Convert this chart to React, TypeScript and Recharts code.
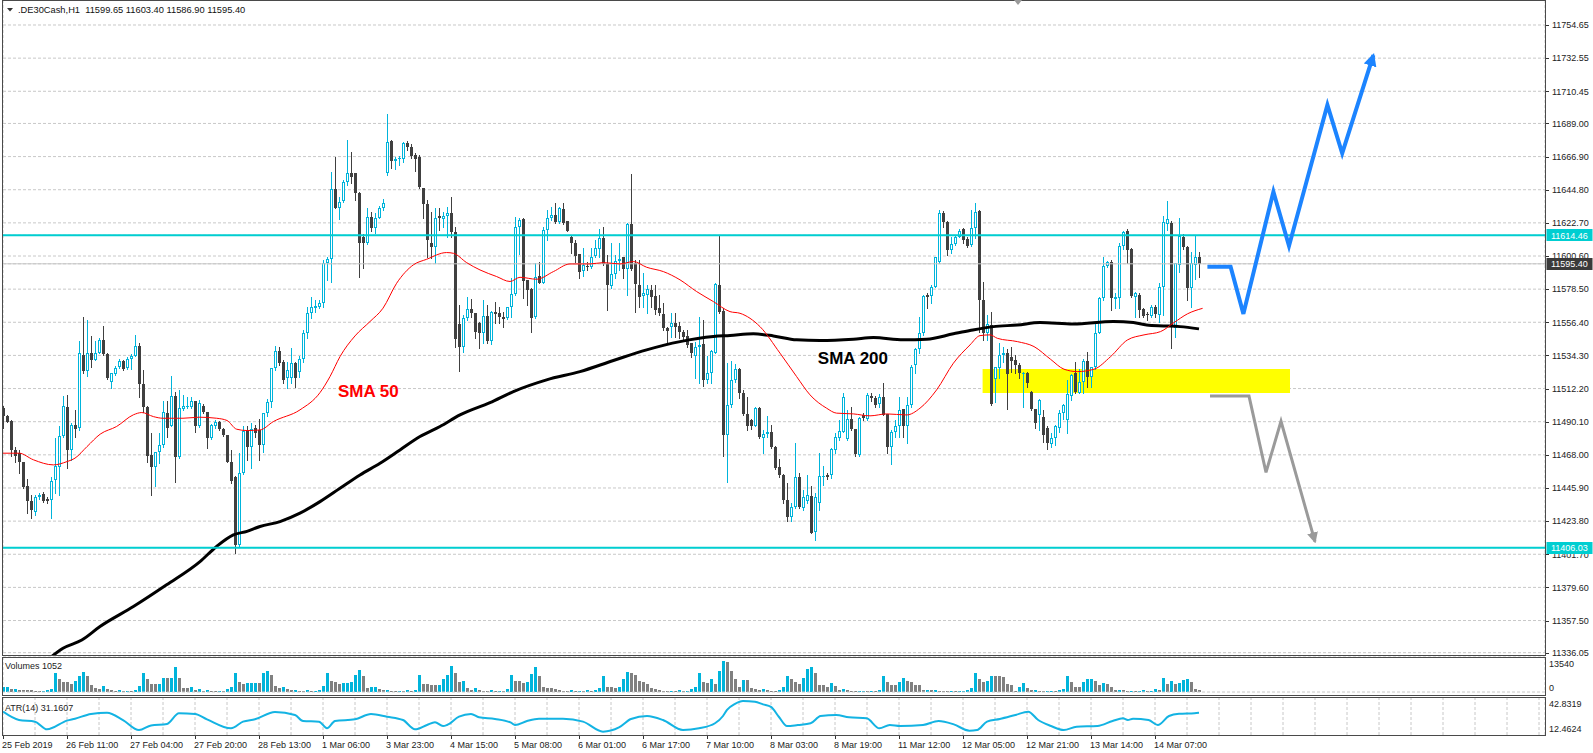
import React from 'react';
import { ComposedChart, Bar, Line, XAxis, YAxis, CartesianGrid, ReferenceLine, ReferenceArea, ReferenceDot } from 'recharts';

// ---------- DATA ----------
const opens = [
11499.1,11493.6,11490.7,11471.3,11469.0,11462.9,11446.9,11437.5,11430.2,11439.8,
11441.9,11438.6,11438.0,11450.9,11460.2,11480.7,11500.2,11471.3,11488.0,11485.8,
11534.7,11523.6,11535.8,11531.3,11535.8,11544.7,11535.3,11516.9,11522.0,11526.5,
11530.7,11525.8,11531.8,11534.0,11540.7,11515.1,11500.2,11468.0,11459.6,11469.8,
11474.7,11496.0,11487.5,11507.3,11466.4,11498.4,11500.2,11499.6,11504.0,11486.9,
11500.7,11496.4,11479.5,11486.9,11490.2,11485.3,11481.3,11463.5,11453.5,11408.0,
11455.8,11484.2,11473.5,11485.7,11484.6,11474.6,11495.8,11503.5,11525.7,11537.5,
11530.2,11519.1,11519.1,11529.1,11523.5,11531.8,11549.1,11562.4,11566.0,11566.4,
11569.1,11595.8,11598.4,11645.1,11632.4,11637.3,11650.2,11655.8,11655.8,11642.5,
11613.6,11609.6,11626.9,11619.1,11625.8,11632.4,11655.8,11677.6,11664.2,11665.3,
11665.1,11676.2,11673.6,11668.0,11666.9,11645.8,11635.4,11609.6,11606.4,11627.0,
11625.3,11627.3,11629.5,11616.9,11555.0,11540.2,11559.1,11565.1,11562.4,11556.2,
11549.1,11560.7,11544.2,11563.5,11562.9,11559.6,11559.1,11566.4,11575.3,11620.2,
11625.1,11584.7,11578.4,11559.8,11587.3,11582.9,11618.0,11625.8,11628.0,11623.6,
11631.8,11624.0,11613.6,11609.1,11602.0,11590.9,11594.0,11593.1,11600.7,11605.1,
11612.5,11595.3,11580.7,11588.5,11597.0,11599.8,11591.8,11622.0,11595.8,11581.3,
11574.0,11574.7,11578.0,11573.6,11565.8,11562.0,11552.4,11553.1,11556.2,11554.0,
11550.2,11547.3,11542.4,11534.0,11539.8,11542.0,11518.0,11522.4,11536.2,11581.3,
11564.2,11481.3,11501.3,11518.0,11525.1,11509.1,11495.3,11491.3,11487.3,11499.1,
11479.1,11482.0,11483.5,11473.5,11460.2,11454.6,11437.9,11426.8,11433.5,11453.1,
11432.4,11437.0,11440.6,11416.8,11435.7,11453.5,11454.6,11454.6,11471.3,11479.1,
11483.5,11478.4,11491.8,11485.1,11468.0,11494.6,11491.8,11507.3,11506.2,11502.0,
11506.4,11495.3,11473.1,11483.5,11486.9,11498.4,11486.9,11501.3,11528.0,11538.4,
11549.1,11574.7,11573.6,11580.2,11596.9,11629.1,11623.6,11604.7,11608.7,11613.6,
11618.5,11611.8,11608.0,11619.1,11630.9,11571.3,11549.5,11554.6,11518.4,11525.7,
11534.6,11535.8,11533.1,11531.3,11528.0,11521.8,11522.4,11510.2,11498.4,11494.6,
11493.5,11485.7,11475.3,11479.1,11485.8,11496.2,11491.3,11507.3,11522.4,11509.5,
11516.8,11530.9,11520.2,11526.4,11549.5,11572.4,11594.0,11596.9,11571.8,11572.4,
11607.0,11617.3,11605.1,11573.5,11574.6,11565.1,11562.0,11560.6,11566.9,11561.3,
11580.2,11622.0,11622.4,11552.4,11594.7,11613.6,11606.9,11579.1,11594.7,11599.65];

const highs = [
11500.7,11494.7,11491.3,11473.5,11471.0,11463.5,11451.8,11441.3,11441.3,11442.4,
11443.5,11440.0,11453.5,11479.1,11486.9,11507.3,11508.0,11489.1,11498.0,11544.0,
11560.2,11558.0,11547.4,11544.0,11545.8,11554.0,11535.8,11522.9,11527.3,11531.8,
11531.5,11533.5,11535.3,11548.0,11542.5,11524.7,11500.7,11482.4,11470.2,11482.4,
11503.6,11504.0,11520.9,11510.2,11511.3,11508.0,11506.4,11506.4,11504.2,11504.7,
11502.0,11496.6,11488.7,11491.3,11490.5,11486.0,11481.5,11471.3,11453.7,11469.1,
11487.3,11486.9,11489.0,11488.0,11491.7,11496.0,11505.0,11526.0,11540.6,11540.0,
11531.0,11530.2,11539.1,11530.0,11534.0,11551.0,11566.9,11573.5,11571.0,11571.3,
11598.0,11600.2,11656.9,11666.4,11640.2,11651.3,11678.0,11670.2,11656.2,11643.0,
11615.0,11632.9,11630.2,11629.1,11634.0,11638.7,11695.4,11678.0,11666.9,11667.0,
11676.9,11677.0,11675.0,11669.0,11668.0,11646.0,11638.0,11630.2,11632.4,11632.4,
11630.0,11633.5,11640.2,11620.2,11568.0,11561.3,11573.1,11571.8,11562.6,11556.5,
11571.3,11568.2,11564.2,11570.2,11566.9,11563.5,11566.9,11585.8,11626.5,11625.8,
11625.8,11584.9,11579.0,11596.2,11596.9,11620.2,11631.3,11633.6,11635.8,11633.6,
11635.8,11624.2,11613.8,11611.3,11602.2,11605.8,11596.9,11605.8,11611.3,11618.5,
11620.2,11601.3,11609.1,11601.3,11609.6,11600.2,11622.9,11655.4,11598.0,11598.0,
11589.1,11581.3,11581.3,11581.3,11574.7,11569.1,11553.5,11562.4,11562.4,11556.9,
11551.3,11551.3,11542.9,11543.5,11560.2,11558.0,11533.6,11538.0,11582.4,11614.7,
11566.0,11529.1,11530.9,11528.7,11525.8,11511.3,11506.4,11492.0,11499.8,11499.8,
11484.7,11494.0,11488.0,11474.0,11465.1,11455.3,11449.5,11435.7,11475.7,11455.8,
11444.6,11454.6,11447.3,11442.4,11469.1,11460.6,11456.0,11472.4,11482.4,11491.3,
11509.1,11498.0,11500.2,11485.3,11493.5,11496.0,11509.1,11509.0,11507.0,11508.6,
11516.2,11495.5,11484.6,11491.3,11506.9,11498.6,11506.9,11528.0,11539.1,11559.8,
11574.7,11575.8,11581.3,11600.2,11631.3,11630.9,11624.2,11613.6,11614.7,11618.5,
11619.1,11613.6,11631.3,11636.2,11631.3,11583.5,11561.3,11563.5,11526.9,11542.4,
11540.0,11538.4,11540.2,11534.6,11529.1,11523.0,11523.0,11510.5,11498.6,11505.0,
11498.0,11486.9,11482.4,11487.9,11498.0,11502.0,11518.0,11522.0,11530.2,11525.0,
11531.8,11536.9,11526.9,11556.9,11573.5,11599.8,11597.5,11598.0,11576.0,11609.1,
11617.5,11618.5,11605.8,11576.9,11575.8,11565.8,11563.5,11568.0,11568.0,11582.4,
11627.3,11637.3,11624.0,11595.8,11625.8,11615.0,11607.0,11603.5,11614.7,11603.4];

const lows = [
11485.8,11489.6,11466.9,11462.9,11455.8,11445.8,11429.5,11425.8,11428.0,11438.4,
11436.4,11436.0,11425.8,11442.4,11441.3,11480.2,11459.1,11464.7,11480.2,11484.7,
11522.5,11520.9,11526.5,11531.3,11535.8,11534.7,11518.5,11512.9,11521.3,11525.8,
11524.5,11525.0,11525.1,11533.6,11506.9,11496.9,11463.5,11441.3,11446.9,11462.4,
11473.5,11480.0,11486.9,11450.2,11465.8,11498.0,11499.1,11499.1,11482.9,11486.4,
11496.0,11472.4,11478.4,11485.8,11484.7,11480.4,11462.9,11449.1,11402.4,11406.9,
11455.3,11464.7,11459.0,11480.0,11464.6,11470.0,11494.0,11500.0,11524.6,11528.0,
11515.8,11512.4,11515.8,11513.0,11520.0,11530.0,11545.8,11559.1,11563.0,11565.8,
11566.9,11584.7,11583.5,11632.4,11625.1,11636.9,11648.0,11649.0,11638.0,11586.4,
11592.5,11608.7,11617.6,11615.8,11625.8,11631.3,11654.7,11659.1,11658.5,11661.0,
11663.6,11671.3,11666.0,11657.0,11645.8,11625.8,11600.2,11599.1,11595.8,11618.0,
11620.0,11613.6,11613.6,11540.2,11524.2,11536.9,11558.0,11560.2,11545.8,11539.1,
11542.4,11542.4,11542.0,11555.8,11555.8,11553.1,11558.4,11560.2,11574.7,11602.0,
11572.4,11568.0,11549.6,11559.1,11582.5,11582.4,11611.3,11624.7,11622.5,11622.5,
11622.0,11617.0,11602.9,11596.9,11585.8,11587.3,11591.3,11592.4,11599.8,11600.2,
11594.7,11564.7,11579.1,11585.8,11591.3,11585.8,11574.7,11591.3,11563.5,11566.9,
11566.9,11562.4,11566.9,11562.0,11561.3,11551.3,11542.0,11546.9,11546.9,11545.8,
11544.7,11540.2,11533.5,11519.1,11515.8,11514.0,11515.8,11516.2,11535.8,11562.4,
11466.9,11450.2,11500.2,11516.9,11505.8,11494.6,11484.7,11485.0,11486.9,11479.1,
11469.5,11480.2,11472.4,11458.5,11453.5,11435.7,11424.2,11424.2,11432.4,11432.4,
11431.3,11436.0,11415.7,11411.3,11431.3,11448.0,11452.0,11452.4,11469.5,11478.0,
11483.0,11478.0,11484.6,11466.9,11467.3,11491.0,11490.9,11504.0,11500.0,11500.0,
11494.6,11469.5,11462.0,11480.2,11480.2,11480.2,11475.7,11500.2,11522.4,11536.2,
11548.0,11565.8,11569.1,11579.8,11596.2,11620.2,11601.3,11602.5,11608.0,11613.1,
11609.6,11606.9,11607.3,11612.4,11550.2,11544.6,11544.6,11501.3,11503.5,11519.1,
11530.0,11498.4,11523.5,11522.4,11519.1,11500.2,11513.0,11498.0,11485.7,11484.6,
11476.8,11471.7,11473.0,11474.6,11483.5,11492.0,11482.4,11504.6,11509.1,11509.1,
11509.1,11513.5,11513.0,11525.5,11549.1,11571.3,11593.5,11564.6,11566.0,11565.8,
11605.1,11595.8,11573.5,11560.2,11560.2,11560.2,11558.0,11560.2,11560.2,11556.9,
11561.3,11618.0,11539.1,11546.9,11590.0,11605.0,11571.3,11566.9,11585.1,11586.9];

const closes = [
11493.6,11490.2,11471.3,11466.9,11462.9,11446.4,11437.5,11430.9,11439.8,11441.3,
11436.9,11437.5,11450.6,11460.7,11480.7,11500.7,11471.3,11488.0,11485.1,11535.8,
11523.6,11535.8,11531.3,11535.8,11544.7,11535.3,11519.1,11522.5,11525.8,11530.7,
11525.1,11532.2,11534.0,11540.7,11515.1,11500.2,11466.9,11459.6,11469.8,11474.7,
11496.4,11486.0,11507.3,11466.4,11499.1,11500.7,11500.7,11503.6,11486.9,11502.5,
11496.4,11479.5,11488.0,11490.2,11485.3,11481.3,11463.5,11450.6,11408.0,11455.8,
11484.2,11473.5,11485.0,11482.4,11474.6,11495.8,11503.5,11525.7,11537.5,11529.1,
11518.0,11524.6,11529.5,11519.1,11531.8,11549.1,11562.4,11566.4,11567.0,11569.1,
11595.8,11598.4,11645.1,11632.5,11636.9,11650.2,11655.8,11653.5,11642.5,11609.1,
11609.1,11626.5,11619.1,11625.8,11632.4,11635.8,11676.5,11664.2,11665.3,11666.2,
11676.2,11673.6,11667.6,11665.1,11646.5,11635.4,11611.3,11606.4,11625.8,11625.8,
11627.3,11629.5,11616.8,11545.1,11540.2,11559.1,11565.1,11562.4,11550.2,11549.1,
11560.7,11544.2,11563.5,11562.0,11559.8,11558.9,11566.4,11575.3,11619.8,11624.7,
11584.2,11577.6,11559.1,11586.4,11582.9,11618.0,11625.8,11628.0,11623.6,11632.5,
11622.5,11617.6,11609.1,11600.7,11590.2,11594.7,11593.1,11600.2,11605.8,11612.5,
11595.3,11581.3,11588.5,11597.3,11598.4,11591.8,11622.0,11591.8,11582.0,11573.5,
11576.2,11578.4,11573.1,11564.7,11562.4,11552.4,11550.9,11556.2,11553.5,11550.2,
11546.9,11541.3,11535.8,11539.8,11541.3,11517.6,11522.9,11537.5,11582.0,11563.5,
11481.3,11501.3,11518.0,11525.1,11509.1,11495.3,11487.3,11487.3,11499.1,11479.8,
11482.0,11483.5,11473.1,11459.1,11454.6,11437.9,11426.8,11433.5,11453.1,11433.5,
11440.2,11441.0,11416.2,11439.7,11454.0,11454.0,11453.5,11471.7,11480.2,11484.2,
11506.9,11491.8,11485.1,11468.6,11492.4,11492.4,11508.0,11505.8,11501.3,11506.9,
11494.8,11473.1,11483.5,11487.3,11498.0,11486.9,11501.3,11526.9,11538.4,11549.5,
11574.0,11573.1,11579.8,11599.8,11629.6,11623.6,11604.7,11608.7,11613.6,11617.6,
11611.3,11607.3,11619.1,11630.2,11571.3,11549.5,11555.3,11501.8,11526.4,11534.6,
11535.8,11522.0,11530.9,11528.0,11522.4,11522.6,11516.0,11498.4,11489.0,11504.6,
11481.3,11475.7,11479.1,11486.9,11496.2,11501.3,11508.6,11521.3,11510.2,11516.8,
11530.9,11520.2,11526.4,11549.5,11572.4,11594.0,11596.9,11572.4,11573.5,11607.3,
11616.9,11604.7,11573.8,11575.7,11564.6,11560.6,11561.3,11566.9,11562.0,11580.2,
11623.5,11625.0,11553.5,11595.8,11614.0,11606.9,11579.1,11596.2,11599.8,11595.4];

const volumes = [
2000,2100,1300,1400,900,900,800,700,400,300,
350,900,1500,8200,5800,4500,4400,3600,4900,7200,
8600,7200,3200,1900,1300,2500,1300,800,500,700,
400,600,300,1000,2500,8200,5800,3600,3500,3700,
6200,5900,6200,10900,6200,1900,1800,2300,900,1200,
500,800,400,300,500,300,1200,2000,8500,4200,
3600,3800,3900,4000,3800,8200,9200,7600,2600,1800,
2300,1500,800,900,600,400,700,300,500,800,
2500,8500,4900,4500,3600,3800,3900,4500,7600,9800,
6900,1900,2000,2300,1300,800,900,500,300,600,
400,800,300,1000,7300,3600,3600,2900,2900,3000,
5600,7600,11500,8500,4500,4900,1800,900,1600,1000,
600,400,800,300,500,400,1500,7400,4900,4900,
4000,4500,7800,10900,6900,2300,1900,1600,1300,800,
600,400,700,300,500,400,900,600,1000,1800,
6900,2300,2300,1900,2300,5600,8900,8200,7600,4900,
4500,3600,1600,1300,700,500,300,600,400,800,
300,500,1500,2200,8200,4500,4000,5600,3600,9300,
13540,13270,9200,5600,2300,5300,5300,1600,1200,800,
1200,700,500,400,1000,2000,6900,5800,4200,3600,
6200,10200,10900,8500,2900,2900,2300,3900,2600,900,
1200,900,600,300,400,500,300,500,300,700,
7200,4200,2900,2900,4500,6200,4900,4200,2900,2900,
900,1000,700,900,500,400,300,500,300,400,
600,800,1800,8200,5600,4500,4900,7200,6900,6900,
6600,3600,2900,600,2200,3900,1600,700,900,600,
300,400,500,300,700,1500,6900,4200,2300,2300,
4200,5600,5800,4900,2900,3800,3300,2300,700,800,
700,400,600,300,500,800,300,600,1200,700,
6200,3600,4900,3600,4000,5200,5800,4200,1300,1052];

const atrBars = [0,4,8,11,16,18,22,26,30,34,37,41,44,48,51,57,60,63,68,73,75,79,81,83,88,92,96,100,103,106,
108,110,111,114,117,119,123,127,128,131,134,140,145,150,154,157,161,165,170,174,178,180,181,183,185,188,190,192,194,196,
198.7,201.9,204.4,208.3,211.5,215.9,219.1,221.7,224.3,230,233.9,237.7,241.6,243.5,246,249.2,253.1,256.3,258.8,262,
265.2,268.4,273.6,277.4,280,281.2,282.5,286.4,288.7,291.5,294,297.9,299];
const atrValues = [32.3,24.0,22.4,14.8,23.4,25.3,30.0,31.3,24.0,14.1,18.7,20.1,30.6,30.0,24.7,15.8,22.4,24.7,31.9,29.0,
23.0,22.4,15.8,23.0,24.7,30.0,27.3,24.0,14.8,19.1,21.7,18.1,19.1,27.3,30.0,26.7,25.0,21.4,19.1,23.0,
25.3,25.3,22.4,12.5,16.7,25.0,28.0,24.0,14.1,15.8,20.8,28.0,34.0,40.0,42.8,42.0,39.5,37.0,27.0,18.0,
19.1,20.8,28.0,29.0,26.7,25.7,15.8,19.1,18.1,19.1,23.0,19.7,13.5,14.1,22.4,25.0,29.0,32.3,24.0,18.1,
14.1,17.4,18.1,23.0,25.7,24.0,25.3,24.0,19.1,28.0,30.2,30.8,31.1607];

const sma50Bars = [0,4,7.6,12.6,16,18,21,24.3,28.4,32.6,34.7,37.6,40,45,49,53.4,56,58.4,61,64.25,
67.6,74.25,79.25,81.75,84.25,88,91.75,95,98.4,102.6,105.9,110.9,112.6,115.9,119.25,123.4,126.75,129.25,133.4,137.6,
141.75,146.75,150.1,154.25,157.6,160.9,165.1,169.25,173.4,177.6,181.75,184.25,189.25,194.25,198.4,201.75,205.9,208.4,212.6,216.75,
220.9,225.9,229.25,233.4,237.6,241.75,244.25,246.75,248.6,253.6,257.75,261.9,265.25,268.6,272.75,276.9,281.1,285.25,289.4,292.75,
296.1,299.9];
const sma50Values = [11469.1,11469.1,11464.7,11461.3,11463.5,11465.8,11473.5,11481.8,11486.9,11494.7,11496.2,11493.5,11492.4,11492.4,11493.1,11492.4,11490.9,11485.1,11484.2,11484.6,
11490.2,11498.0,11509.5,11520.2,11533.5,11547.3,11556.9,11565.8,11582.4,11594.7,11598.4,11602.9,11602.4,11596.2,11591.3,11586.9,11583.6,11586.4,11585.1,11590.2,
11595.3,11595.3,11596.2,11595.3,11596.9,11593.1,11590.2,11584.7,11576.9,11570.2,11563.5,11562.4,11553.5,11535.8,11520.2,11508.0,11499.1,11495.8,11495.3,11494.0,
11495.3,11494.6,11499.1,11511.3,11529.1,11541.3,11547.5,11548.0,11545.7,11543.5,11540.2,11531.7,11525.1,11523.5,11525.1,11533.5,11544.6,11548.0,11550.2,11556.2,
11562.0,11565.7];

const sma200Bars = [11,15,19.7,24.25,32.6,40.9,49.25,53.4,57.6,61,64.25,69.25,74.25,79.25,84.25,89.25,94.25,99.25,104.25,109.25,
114.25,121.75,127.6,135.9,144.25,152.6,160.9,169.25,177.6,181.75,187.6,192.6,198.4,204.25,212.6,217.6,225.1,230.9,237.6,241.75,
247.6,253.6,259.25,267.6,277.6,282.6,285.9,290.1,294.25,299];
const sma200Values = [11331.0,11339.0,11344.5,11353.5,11366.8,11381.3,11396.8,11406.9,11414.6,11417.0,11420.2,11423.5,11429.1,11436.8,11445.7,11454.6,11462.4,11471.3,11480.2,11486.9,
11494.6,11502.8,11510.2,11518.0,11523.5,11530.9,11538.0,11543.5,11546.9,11547.6,11548.7,11547.3,11544.7,11544.2,11545.1,11546.2,11544.7,11545.1,11548.7,11550.9,
11553.5,11554.6,11556.2,11555.3,11556.9,11556.2,11554.6,11554.0,11553.5,11552.0];

// forecast paths drawn on the chart
const bluePathBars = [301.1,306.9,310.1,317.6,321.5,331.1,334.8,342.6];
const bluePathPrices = [11593.5,11593.5,11562.0,11643.5,11607.3,11701.3,11669.1,11734.6];
const grayPathBars = [301.75,311.5,315.75,319.5,328.0];
const grayPathPrices = [11507.2,11507.2,11456.3,11490.4,11410.1];

const zoneBars = [244.9, 321.75];
const zonePrices = [11509.2, 11525.2];

const resistance = 11614.46;
const support = 11406.03;
const lastPrice = 11595.40;

const priceTicks = [11754.65,11732.55,11710.45,11689.00,11666.90,11644.80,11622.70,11600.60,11578.50,11556.40,
11534.30,11512.20,11490.10,11468.00,11445.90,11423.80,11401.70,11379.60,11357.50,11336.05];

const timeLabels = ['25 Feb 2019','26 Feb 11:00','27 Feb 04:00','27 Feb 20:00','28 Feb 13:00','1 Mar 06:00','3 Mar 23:00',
'4 Mar 15:00','5 Mar 08:00','6 Mar 01:00','6 Mar 17:00','7 Mar 10:00','8 Mar 03:00','8 Mar 19:00','11 Mar 12:00',
'12 Mar 05:00','12 Mar 21:00','13 Mar 14:00','14 Mar 07:00'];

const volTicks = [0, 13540];
const atrTicks = [12.4624, 42.8319];

// ---------- STYLE ----------
const FONT = "'Liberation Sans', Arial, sans-serif";
const TEAL = '#00B4DB';
const BEAR = '#404040';
const VOLGRAY = '#808080';
const GRID = '#C8C8C8';
const CYAN = '#00CED1';
const BORDER = '#4A4A4A';
const X_DOMAIN: [number, number] = [0, 385.5];
const GRID_TICKS = Array.from({ length: 49 }, (_, k) => k * 8);

const candleData = opens.map((o, i) => ({ i, o, h: highs[i], l: lows[i], c: closes[i], range: [lows[i], highs[i]] }));
const volData = volumes.map((v, i) => ({ i, vol: v, up: i === 0 ? true : v > volumes[i - 1] }));
const atrData = atrBars.map((b, k) => ({ i: b, v: atrValues[k] }));
const sma50Data = sma50Bars.map((b, k) => ({ i: b, v: sma50Values[k] }));
const sma200Data = sma200Bars.map((b, k) => ({ i: b, v: sma200Values[k] }));
const blueData = bluePathBars.map((b, k) => ({ i: b, v: bluePathPrices[k] }));
const grayData = grayPathBars.map((b, k) => ({ i: b, v: grayPathPrices[k] }));

const SPECIAL = [
  { value: lastPrice, bg: '#3A3A3A' },
  { value: resistance, bg: CYAN },
  { value: support, bg: CYAN },
];

const Candle = (props: any) => {
  const { x, y, width, height, payload } = props;
  if (x == null || y == null || !payload) return <g />;
  const cx = Math.round(x + width / 2);
  const top = Math.min(y, y + height);
  const hgt = Math.abs(height);
  const { o, h, l, c } = payload;
  const span = h - l;
  const py = (p: number) => (span > 0 ? top + ((h - p) / span) * hgt : top);
  const yo = py(o);
  const yc = py(c);
  const bTop = Math.round(Math.min(yo, yc));
  const bBot = Math.round(Math.max(yo, yc));
  const bull = c >= o;
  const col = bull ? TEAL : BEAR;
  const wTop = Math.round(top);
  const wBot = Math.round(top + hgt) + 1;
  return (
    <g>
      <line x1={cx + 0.5} x2={cx + 0.5} y1={wTop} y2={wBot} stroke={col} strokeWidth={1} />
      {bull && bBot - bTop >= 3 ? (
        <rect x={cx - 0.5} y={bTop + 0.5} width={2} height={bBot - bTop - 1} fill="#ffffff" stroke={col} strokeWidth={1} />
      ) : (
        <rect x={cx - 1} y={bTop} width={3} height={Math.max(1, bBot - bTop)} fill={col} />
      )}
    </g>
  );
};

const VolBar = (props: any) => {
  const { x, y, width, height, payload } = props;
  if (x == null || y == null || !payload) return <g />;
  const cx = Math.round(x + width / 2);
  const t = Math.round(Math.min(y, y + height));
  const b = Math.round(Math.max(y, y + height));
  return <rect x={cx - 1} y={t} width={3} height={Math.max(1, b - t)} fill={payload.up ? TEAL : VOLGRAY} />;
};

const PriceTick = (props: any) => {
  const { x, y, payload } = props;
  const v: number = payload.value;
  const sp = SPECIAL.find((s) => s.value === v);
  const txt = v.toFixed(2);
  if (sp) {
    return (
      <g>
        <rect x={x + 1.5} y={Math.round(y) - 6} width={46} height={12} fill={sp.bg} />
        <text x={x + 6} y={y} dy={3.3} fontSize={9} fontFamily={FONT} fill="#ffffff">{txt}</text>
      </g>
    );
  }
  return (
    <g>
      <line x1={x} x2={x + 4} y1={Math.round(y) + 0.5} y2={Math.round(y) + 0.5} stroke="#333" strokeWidth={1} />
      <text x={x + 7} y={y} dy={3.3} fontSize={9} fontFamily={FONT} fill="#222">{txt}</text>
    </g>
  );
};

const SubTick = (props: any) => {
  const { x, y, payload, labels } = props;
  const v: number = payload.value;
  const item = labels.find((l: any) => l.value === v);
  return (
    <text x={x + 4} y={y} dy={item ? item.dy : 3} fontSize={9} fontFamily={FONT} fill="#222">{item ? item.text : String(v)}</text>
  );
};

const TimeTick = (props: any) => {
  const { x, y, payload } = props;
  const v: number = payload.value;
  if (v % 16 !== 0) return <g />;
  const label = timeLabels[v / 16];
  if (!label) return <g />;
  return (
    <g>
      <line x1={Math.round(x) + 0.5} x2={Math.round(x) + 0.5} y1={y} y2={y + 4} stroke="#333" strokeWidth={1} />
      <text x={x - 1} y={y + 13} fontSize={9} fontFamily={FONT} fill="#222">{label}</text>
    </g>
  );
};

const textShape = (txt: string, color: string) => (p: any) => (
  <text x={p.cx} y={p.cy} dy={6} fontSize={17} fontWeight="bold" fontFamily={FONT} fill={color}>{txt}</text>
);

export default function App() {
  const hdr = `.DE30Cash,H1  ${opens[299].toFixed(2)} ${highs[299].toFixed(2)} ${lows[299].toFixed(2)} ${closes[299].toFixed(2)}`;
  return (
    <div style={{ position: 'absolute', left: 0, top: 0, width: 1593, height: 753, background: '#ffffff', overflow: 'hidden', fontFamily: FONT }}>
      <svg width={0} height={0} style={{ position: 'absolute' }}>
        <defs>
          <marker id="arrBlue" viewBox="0 0 12 12" refX={10} refY={6} markerWidth={13} markerHeight={13} markerUnits="userSpaceOnUse" orient="auto">
            <path d="M0,0 L12,6 L0,12 z" fill="#1C84FF" />
          </marker>
          <marker id="arrGray" viewBox="0 0 12 12" refX={10} refY={6} markerWidth={11} markerHeight={11} markerUnits="userSpaceOnUse" orient="auto">
            <path d="M0,0 L12,6 L0,12 z" fill="#9A9A9A" />
          </marker>
        </defs>
      </svg>

      {/* MAIN PRICE PANEL */}
      <div style={{ position: 'absolute', left: 0, top: 0 }}>
        <ComposedChart width={1593} height={661} data={candleData} margin={{ top: 0, right: 0, bottom: 5, left: 3 }}>
          <CartesianGrid stroke={GRID} strokeDasharray="3 2" />
          <XAxis dataKey="i" type="number" domain={X_DOMAIN} allowDataOverflow ticks={GRID_TICKS} interval={0} height={0} tick={false} axisLine={false} tickLine={false} />
          <YAxis orientation="right" width={48} type="number" domain={[11333.85, 11771.32]} allowDataOverflow ticks={[...priceTicks, ...SPECIAL.map((s) => s.value)]} interval={0} tickSize={0} tickMargin={0} axisLine={false} tickLine={false} tick={<PriceTick />} />
          <ReferenceArea x1={zoneBars[0]} x2={zoneBars[1]} y1={zonePrices[0]} y2={zonePrices[1]} fill="#FFFF00" fillOpacity={1} stroke="none" />
          <ReferenceLine y={lastPrice} stroke="#C8C8C8" strokeWidth={1} />
          <Bar dataKey="range" barSize={3} shape={<Candle />} isAnimationActive={false} />
          <Line data={sma200Data} dataKey="v" type="monotone" stroke="#000000" strokeWidth={3} dot={false} activeDot={false} isAnimationActive={false} />
          <Line data={sma50Data} dataKey="v" type="monotone" stroke="#FF0000" strokeWidth={1} dot={false} activeDot={false} isAnimationActive={false} />
          <ReferenceLine y={resistance} stroke={CYAN} strokeWidth={2} />
          <ReferenceLine y={support} stroke={CYAN} strokeWidth={2} />
          <Line data={blueData} dataKey="v" type="linear" stroke="#1C84FF" strokeWidth={4} dot={false} activeDot={false} isAnimationActive={false} markerEnd="url(#arrBlue)" />
          <Line data={grayData} dataKey="v" type="linear" stroke="#9A9A9A" strokeWidth={3} dot={false} activeDot={false} isAnimationActive={false} markerEnd="url(#arrGray)" />
          <ReferenceDot x={83.75} y={11510.6} r={0} shape={textShape('SMA 50', '#FF0000')} />
          <ReferenceDot x={203.7} y={11532.6} r={0} shape={textShape('SMA 200', '#000000')} />
        </ComposedChart>
      </div>

      {/* VOLUMES PANEL */}
      <div style={{ position: 'absolute', left: 0, top: 657 }}>
        <ComposedChart width={1593} height={38} data={volData} margin={{ top: 0, right: 0, bottom: 3, left: 3 }}>
          <CartesianGrid stroke={GRID} strokeDasharray="3 2" horizontal={false} />
          <XAxis dataKey="i" type="number" domain={X_DOMAIN} allowDataOverflow ticks={GRID_TICKS} interval={0} height={0} tick={false} axisLine={false} tickLine={false} />
          <YAxis orientation="right" width={48} type="number" domain={[0, 15287]} allowDataOverflow ticks={volTicks} interval={0} tickSize={0} tickMargin={0} axisLine={false} tickLine={false}
            tick={<SubTick labels={[{ value: 13540, text: '13540', dy: 6 }, { value: 0, text: '0', dy: -1 }]} />} />
          <ReferenceLine y={0} stroke={GRID} strokeDasharray="3 2" />
          <Bar dataKey="vol" barSize={3} shape={<VolBar />} isAnimationActive={false} />
        </ComposedChart>
      </div>

      {/* ATR PANEL */}
      <div style={{ position: 'absolute', left: 0, top: 697 }}>
        <ComposedChart width={1593} height={56} data={atrData} margin={{ top: 0, right: 0, bottom: 0, left: 3 }}>
          <CartesianGrid stroke={GRID} strokeDasharray="3 2" horizontal={false} />
          <XAxis dataKey="i" type="number" domain={X_DOMAIN} allowDataOverflow ticks={GRID_TICKS} interval={0} height={18} tickSize={0} tickMargin={0} axisLine={false} tickLine={false} tick={<TimeTick />} />
          <YAxis orientation="right" width={48} type="number" domain={[9.2, 46.79]} allowDataOverflow ticks={atrTicks} interval={0} tickSize={0} tickMargin={0} axisLine={false} tickLine={false}
            tick={<SubTick labels={[{ value: 42.8319, text: '42.8319', dy: 6.3 }, { value: 12.4624, text: '12.4624', dy: 0.6 }]} />} />
          <Line dataKey="v" type="monotone" stroke="#13B3E3" strokeWidth={2} dot={false} activeDot={false} isAnimationActive={false} />
        </ComposedChart>
      </div>

      {/* FRAME, TITLES */}
      <svg width={1593} height={753} style={{ position: 'absolute', left: 0, top: 0, pointerEvents: 'none' }}>
        <rect x={2.5} y={0.5} width={1543} height={655} fill="none" stroke={BORDER} strokeWidth={1} />
        <rect x={2.5} y={657.5} width={1543} height={38} fill="none" stroke={BORDER} strokeWidth={1} />
        <rect x={2.5} y={697.5} width={1543} height={38} fill="none" stroke={BORDER} strokeWidth={1} />
        <polygon points="7,8 13,8 10,11.5" fill="#333" />
        <text x={18} y={12.8} fontSize={9.3} fontFamily={FONT} fill="#111" style={{ whiteSpace: 'pre' }}>{hdr}</text>
        <polygon points="1014,0 1022,0 1018,5" fill="#9A9A9A" />
        <text x={5} y={668.5} fontSize={9} fontFamily={FONT} fill="#222">{`Volumes ${volumes[299]}`}</text>
        <text x={5} y={711} fontSize={9} fontFamily={FONT} fill="#222">{`ATR(14) ${atrValues[atrValues.length - 1].toFixed(4)}`}</text>
      </svg>
    </div>
  );
}
